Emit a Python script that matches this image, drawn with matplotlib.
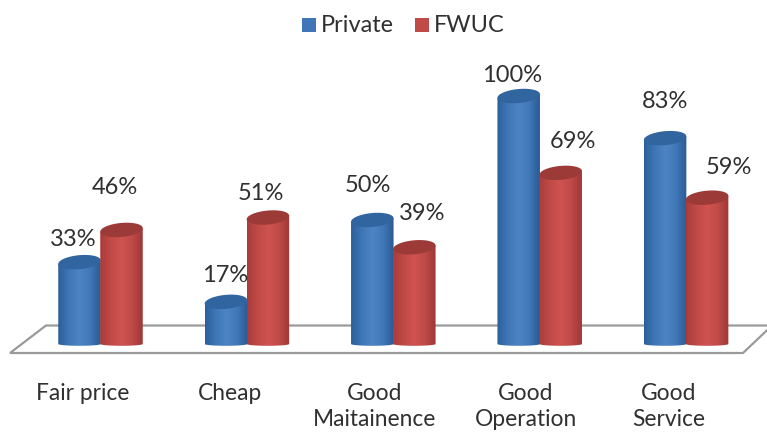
import numpy as np
import matplotlib
matplotlib.use("Agg")
import matplotlib.pyplot as plt
from matplotlib.colors import LinearSegmentedColormap
from matplotlib.patches import PathPatch, Polygon, Rectangle
from matplotlib.path import Path

categories = ["Fair price", "Cheap", "Good\nMaitainence", "Good\nOperation", "Good\nService"]
series_names = ["Private", "FWUC"]
private = [33, 17, 50, 100, 83]
fwuc = [46, 51, 39, 69, 59]

plt.rcParams["font.family"] = ["Lato", "DejaVu Sans"]
W, H = 767, 432
fig = plt.figure(figsize=(W / 100, H / 100), dpi=100)
ax = fig.add_axes([0, 0, 1, 1])
PXX, PXY = 146.4, 2.48
XLIM = (-100.5 / PXX, (W - 100.5) / PXX)
YLIM = (-(H - 344) / PXY, 344 / PXY)


def px(x, y):
    return (x - 100.5) / PXX, (344 - y) / PXY


floor = Polygon([px(10, 353), px(46, 325.5), px(772, 325.5), px(743, 353)],
                closed=True, fc="white", ec="#9a9a9a", lw=1.6, zorder=1)
ax.add_patch(floor)

bw = 42.5 / PXX
eh_top = 7.0 / PXY
eh_bot = 1.8 / PXY
tilt = 1.8 / PXY
cmaps = [
    (LinearSegmentedColormap.from_list("b", ["#2c5f9a", "#3f76b6", "#4d84c4", "#4078b8", "#2a5a94"]), "#30659f"),
    (LinearSegmentedColormap.from_list("r", ["#a83c3a", "#c04a47", "#cf5350", "#bf4a47", "#9e3735"]), "#9c3a38"),
]
grad = np.linspace(0, 1, 128).reshape(1, -1)


def cylinder(cx, val, cmap, topc, z):
    l, r = cx - bw / 2, cx + bw / 2
    t = np.linspace(np.pi, 2 * np.pi, 40)
    bottom = np.column_stack([cx + bw / 2 * np.cos(t), eh_bot * np.sin(t)])
    body = np.vstack([[[l, val - tilt]], bottom, [[r, val + tilt]], [[l, val - tilt]]])
    im = ax.imshow(grad, extent=[l, r, -eh_bot, val + eh_top + tilt], cmap=cmap, aspect="auto", zorder=z)
    im.set_clip_path(PathPatch(Path(body), transform=ax.transData))
    t = np.linspace(0, 2 * np.pi, 80)
    top = np.column_stack([cx + bw / 2 * np.cos(t), val + eh_top * np.sin(t) + tilt * np.cos(t)])
    ax.add_patch(Polygon(top, closed=True, fc=topc, ec="none", zorder=z + 0.5))


offset = 21.0 / PXX
for i in range(len(categories)):
    cylinder(i - offset, private[i], cmaps[0][0], cmaps[0][1], 3 + i * 2)
    cylinder(i + offset, fwuc[i], cmaps[1][0], cmaps[1][1], 4 + i * 2)

ax.set_xlim(*XLIM)
ax.set_ylim(*YLIM)
ax.axis("off")

tc = "#303030"
lab_private = [(73, 239), (225, 276), (368, 185), (512, 75), (665, 101)]
lab_fwuc = [(115, 188), (261, 194), (422, 214), (573, 141), (729, 167)]
for vals, pos in ((private, lab_private), (fwuc, lab_fwuc)):
    for v, (x, y) in zip(vals, pos):
        ax.text(*px(x, y), f"{v}%", ha="center", va="center", fontsize=17, color=tc, zorder=30)

lab_x = [83, 230, 375, 526, 669]
for c, x in zip(categories, lab_x):
    for line, y in zip(c.split("\n"), (394, 419.5)):
        ax.text(*px(x, y), line, ha="center", va="center", fontsize=16.4, color=tc, zorder=30)

for sq, cl, tx, name in ((302, "#4076b8", 321, series_names[0]), (415, "#c04a47", 434, series_names[1])):
    x0, y0 = px(sq, 32)
    x1, y1 = px(sq + 14, 18)
    ax.add_patch(Rectangle((x0, y0), x1 - x0, y1 - y0, fc=cl, ec="none", zorder=30))
    ax.text(*px(tx, 25), name, ha="left", va="center", fontsize=16.9, color=tc, zorder=30)

fig.savefig("out.png", dpi=100)
